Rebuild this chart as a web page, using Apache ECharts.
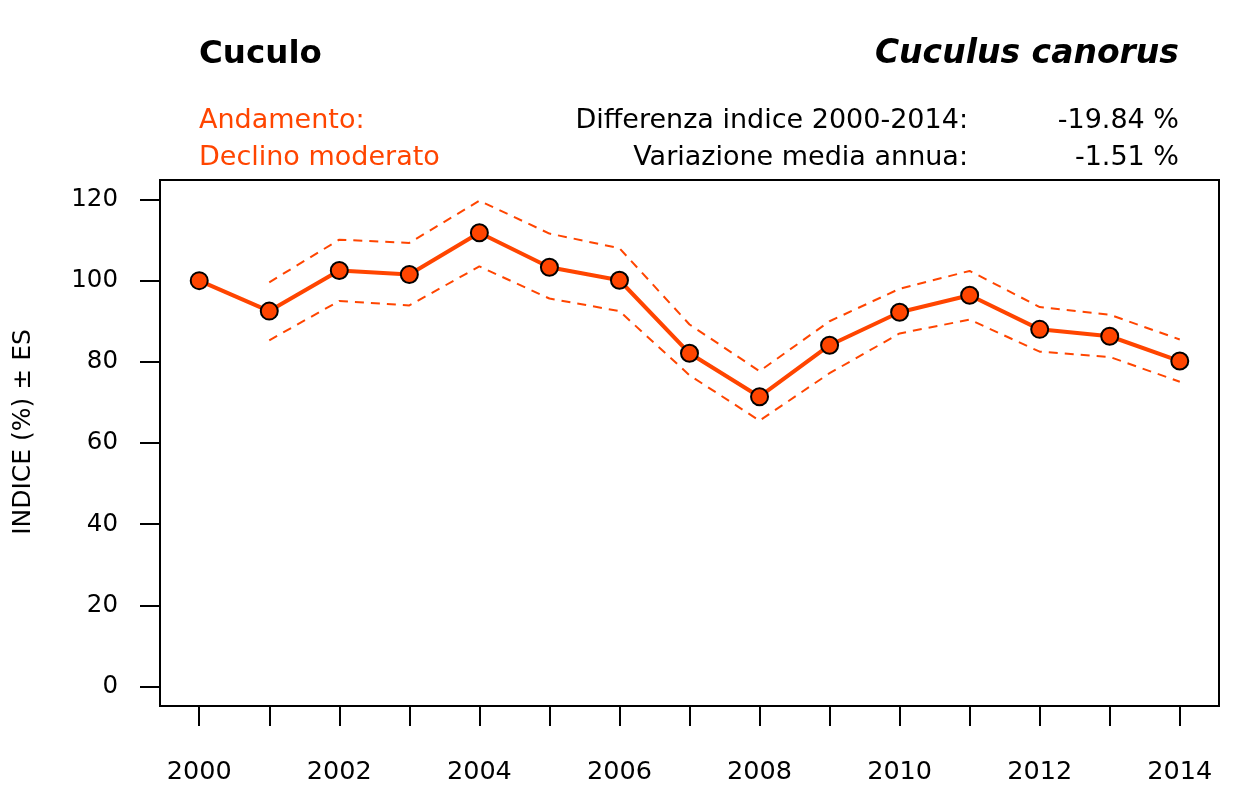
<!DOCTYPE html>
<html><head><meta charset="utf-8">
<script src="https://cdn.jsdelivr.net/npm/echarts@6/dist/echarts.min.js"></script>
<style>html,body{margin:0;padding:0;background:#fff}#c{width:1259px;height:787px}</style>
</head><body><div id="c"></div>
<script>
const years = [2000,2001,2002,2003,2004,2005,2006,2007,2008,2009,2010,2011,2012,2013,2014];
const indexValues = [100,92.5,102.5,101.5,111.8,103.3,100.1,82.1,71.4,84.1,92.2,96.4,88.0,86.3,80.2];
const upperValues = [null,99.6,110.1,109.3,119.7,111.6,108.0,89.2,77.7,90.0,98.0,102.4,93.5,91.6,85.5];
const lowerValues = [null,85.3,95.0,93.9,103.5,95.6,92.5,76.7,65.5,77.2,87.0,90.4,82.5,81.2,75.1];
const yTicks = [0,20,40,60,80,100,120];
const xLabelYears = [2000,2002,2004,2006,2008,2010,2012,2014];

const ORANGE = '#FF4500';
const FONT = 'DejaVu Sans';

const pairs = arr => years.map((y,i) => [y, arr[i]]);

const chart = echarts.init(document.getElementById('c'), null, {renderer:'canvas'});
chart.setOption({
  animation: false,
  backgroundColor: '#fff',
  grid: {left:160, top:180, width:1059, height:526, show:true, borderColor:'#000', borderWidth:2, backgroundColor:'transparent'},
  xAxis: {
    type:'value', min:1999.44, max:2014.56,
    axisLine:{show:false, onZero:false},
    splitLine:{show:false},
    axisTick:{show:true, length:20, customValues:years, lineStyle:{color:'#000', width:2}},
    axisLabel:{customValues:xLabelYears, formatter:v=>String(v), fontFamily:FONT, fontSize:25.5, color:'#000', margin:53}
  },
  yAxis: {
    type:'value', min:-4.8, max:124.8,
    axisLine:{show:false, onZero:false},
    splitLine:{show:false},
    axisTick:{show:true, length:20, customValues:yTicks, lineStyle:{color:'#000', width:2}},
    axisLabel:{customValues:yTicks, formatter:v=>String(v), fontFamily:FONT, fontSize:24.5, color:'#000', margin:42}
  },
  series: [
    {type:'line', data:pairs(upperValues), symbol:'none', connectNulls:false,
     lineStyle:{color:ORANGE, width:2, type:[9,7]}, z:2},
    {type:'line', data:pairs(lowerValues), symbol:'none', connectNulls:false,
     lineStyle:{color:ORANGE, width:2, type:[9,7]}, z:2},
    {type:'line', data:pairs(indexValues), symbol:'circle', symbolSize:17,
     lineStyle:{color:ORANGE, width:4},
     itemStyle:{color:ORANGE, borderColor:'#000', borderWidth:2}, z:3}
  ],
  graphic: [
    {type:'text', left:199, top:38, style:{text:'Cuculo', font:'bold 32.5px '+FONT, fill:'#000'}},
    {type:'text', right:80, top:38, style:{text:'Cuculus canorus', font:'italic bold 33px '+FONT, fill:'#000'}},
    {type:'text', left:199, top:107, style:{text:'Andamento:', font:'27px '+FONT, fill:ORANGE}},
    {type:'text', left:199, top:144, style:{text:'Declino moderato', font:'27px '+FONT, fill:ORANGE}},
    {type:'text', right:291, top:107, style:{text:'Differenza indice 2000-2014:', font:'27px '+FONT, fill:'#000'}},
    {type:'text', right:291, top:144, style:{text:'Variazione media annua:', font:'27px '+FONT, fill:'#000'}},
    {type:'text', right:80, top:107, style:{text:'-19.84 %', font:'27px '+FONT, fill:'#000'}},
    {type:'text', right:80, top:144, style:{text:'-1.51 %', font:'27px '+FONT, fill:'#000'}},
    {type:'text', x:23, y:432, rotation:Math.PI/2, style:{text:'INDICE (%) ± ES', font:'25px '+FONT, fill:'#000', align:'center', verticalAlign:'middle'}}
  ]
});
</script></body></html>
